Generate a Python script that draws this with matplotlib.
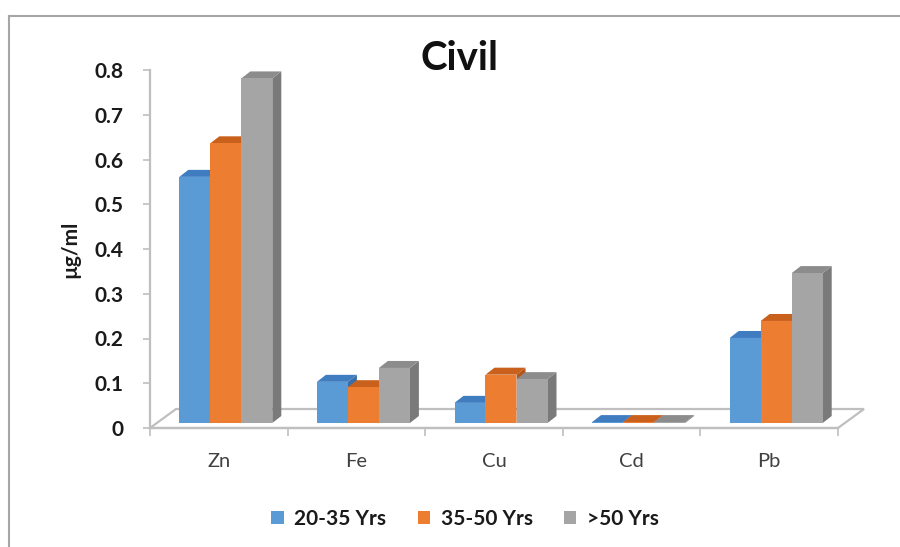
import matplotlib
matplotlib.use("Agg")
import matplotlib.pyplot as plt
from matplotlib.patches import Polygon, Patch
from matplotlib.lines import Line2D

# ---- data -------------------------------------------------------------
categories = ["Zn", "Fe", "Cu", "Cd", "Pb"]
series_names = ["20-35 Yrs", "35-50 Yrs", ">50 Yrs"]
age_20_35 = [0.55, 0.092, 0.045, 0.002, 0.19]
age_35_50 = [0.625, 0.08, 0.108, 0.002, 0.228]
age_50_up = [0.77, 0.123, 0.098, 0.002, 0.335]
y_ticks = [0, 0.1, 0.2, 0.3, 0.4, 0.5, 0.6, 0.7, 0.8]
y_tick_labels = ["0", "0.1", "0.2", "0.3", "0.4", "0.5", "0.6", "0.7", "0.8"]

series = [age_20_35, age_35_50, age_50_up]
front_colors = ["#5B9BD5", "#ED7D31", "#A5A5A5"]
top_colors = ["#3F7CC0", "#C9601C", "#8C8C8C"]
side_colors = ["#3A6EA8", "#B4561A", "#7A7A7A"]

plt.rcParams["font.family"] = ["Lato", "DejaVu Sans"]

W, H, DPI = 900, 547, 100
fig = plt.figure(figsize=(W / DPI, H / DPI), dpi=DPI)
fig.patch.set_facecolor("white")

# plot area in pixels
ax_left, ax_right, ax_bottom, ax_top = 150, 838, 428, 70
ax = fig.add_axes([ax_left / W, 1 - ax_bottom / H,
                   (ax_right - ax_left) / W, (ax_bottom - ax_top) / H])
ax.set_xlim(0, len(categories))
ax.set_ylim(0, 0.8)
ax.patch.set_visible(False)

# pixel -> data unit conversion for the pseudo-3D depth
sx = len(categories) / (ax_right - ax_left)
sy = 0.8 / (ax_bottom - ax_top)

floor_dx, floor_dy = 26 * sx, 19 * sy      # depth of the floor
front_dx, front_dy = 7 * sx, 5 * sy        # bars' front plane behind floor edge
bar_dx, bar_dy = 9 * sx, 7 * sy            # bar depth
bar_w = 31 * sx

axis_color = "#BFBFBF"

# floor
floor = Polygon([(0, 0), (len(categories), 0),
                 (len(categories) + floor_dx, floor_dy), (floor_dx, floor_dy)],
                closed=True, facecolor="white", edgecolor=axis_color,
                linewidth=1.6, clip_on=False, zorder=1)
ax.add_patch(floor)

z = 2
for ci, cat in enumerate(categories):
    center = ci + 0.5 + front_dx
    for si, vals in enumerate(series):
        v = vals[ci]
        x0 = center - 1.5 * bar_w + si * bar_w
        x1 = x0 + bar_w
        b = front_dy
        t = b + v
        side = Polygon([(x1, b), (x1 + bar_dx, b + bar_dy),
                        (x1 + bar_dx, t + bar_dy), (x1, t)],
                       closed=True, facecolor=side_colors[si],
                       edgecolor="none", clip_on=False, zorder=z)
        top = Polygon([(x0, t), (x1, t), (x1 + bar_dx, t + bar_dy),
                       (x0 + bar_dx, t + bar_dy)],
                      closed=True, facecolor=top_colors[si],
                      edgecolor="none", clip_on=False, zorder=z)
        ax.add_patch(side)
        ax.add_patch(top)
        ax.bar(x0, v, width=bar_w, bottom=b, align="edge",
               color=front_colors[si], edgecolor="none", zorder=z + 0.5,
               clip_on=False)
        z += 1

# axes styling
for s in ["top", "right"]:
    ax.spines[s].set_visible(False)
ax.spines["left"].set_color(axis_color)
ax.spines["left"].set_linewidth(1.6)
ax.spines["bottom"].set_color(axis_color)
ax.spines["bottom"].set_linewidth(1.6)
ax.spines["bottom"].set_zorder(1.5)

ax.set_yticks(y_ticks)
ax.set_yticklabels(y_tick_labels, fontsize=15, fontweight="bold", color="#1A1A1A")
ax.tick_params(axis="y", direction="out", length=5, width=1.2,
               color=axis_color, pad=14)

ax.set_xticks([i + 0.5 for i in range(len(categories))])
ax.set_xticklabels(categories, fontsize=14.5, color="#404040")
ax.set_xticks(list(range(len(categories) + 1)), minor=True)
ax.tick_params(axis="x", which="major", length=0, pad=18)
ax.tick_params(axis="x", which="minor", direction="out", length=6,
               width=1.2, color=axis_color)

ax.set_ylabel("µg/ml", fontsize=15, fontweight="bold", color="#1A1A1A",
              labelpad=10)

fig.text(460 / W, 1 - 59 / H, "Civil", ha="center", va="center",
         fontsize=29, fontweight="bold", color="#111111")

handles = [Patch(facecolor=c, edgecolor="none") for c in front_colors]
leg = fig.legend(handles, series_names, loc="center",
                 bbox_to_anchor=(465 / W, 1 - 519 / H), ncol=3, frameon=False,
                 handlelength=0.6, handleheight=0.6, handletextpad=0.5,
                 columnspacing=1.5, prop={"size": 15, "weight": "bold"})
for txt in leg.get_texts():
    txt.set_color("#1A1A1A")

# outer chart frame (left and top edges)
fig.add_artist(Line2D([9 / W, 9 / W], [0, 1 - 16 / H], transform=fig.transFigure,
                      color="#A6A6A6", linewidth=1.5))
fig.add_artist(Line2D([9 / W, 1], [1 - 16 / H, 1 - 16 / H],
                      transform=fig.transFigure, color="#A6A6A6", linewidth=1.5))

fig.savefig("out.png", dpi=DPI)
